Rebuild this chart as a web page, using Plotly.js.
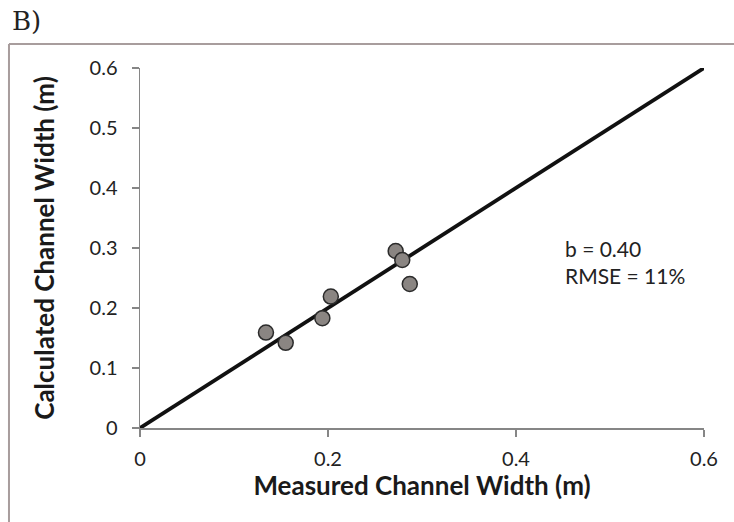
<!DOCTYPE html>
<html>
<head>
<meta charset="utf-8">
<script src="https://cdn.plot.ly/plotly-3.0.1.min.js"></script>
<style>html,body{margin:0;padding:0;background:#fff;}#chart{width:734px;height:522px;}</style>
</head>
<body>
<div id="chart"></div>
<script>
// Data
const measuredWidth = [0.134, 0.155, 0.194, 0.203, 0.272, 0.279, 0.287];
const calculatedWidth = [0.159, 0.142, 0.183, 0.219, 0.295, 0.280, 0.240];
const lineX = [0, 0.6];
const lineY = [0, 0.6];
const tickVals = [0, 0.1, 0.2, 0.3, 0.4, 0.5, 0.6];
const tickTextY = ['0', '0.1', '0.2', '0.3', '0.4', '0.5', '0.6'];
const xTickVals = [0, 0.2, 0.4, 0.6];
const xTickText = ['0', '0.2', '0.4', '0.6'];

const font = 'Lato, "Open Sans", sans-serif';

const traces = [
  {x: lineX, y: lineY, mode: 'lines', line: {color: '#111', width: 3.8}, hoverinfo: 'skip', showlegend: false},
  {x: measuredWidth, y: calculatedWidth, mode: 'markers',
   marker: {size: 15, color: '#8a8582', line: {color: '#2b2b2b', width: 1.5}}, showlegend: false}
];

const frameColor = '#a89d9d';
const layout = {
  width: 734, height: 522,
  margin: {l: 140, r: 30, t: 68, b: 94},
  paper_bgcolor: '#fff', plot_bgcolor: '#fff',
  font: {family: font, color: '#222', size: 18},
  showlegend: false,
  xaxis: {
    range: [0, 0.6], tickvals: xTickVals, ticktext: xTickText,
    showgrid: false, zeroline: false, showline: true, linecolor: '#868686', linewidth: 1.5,
    ticks: 'outside', ticklen: 7, tickcolor: '#868686', tickwidth: 1.5,
    ticklabelstandoff: 5,
    tickfont: {family: font, size: 20, color: '#222'},
    title: {text: '<b>Measured Channel Width (m)</b>', font: {family: font, size: 26, color: '#1a1a1a'}, standoff: 6}
  },
  yaxis: {
    range: [0, 0.6], tickvals: tickVals, ticktext: tickTextY,
    showgrid: false, zeroline: false, showline: true, linecolor: '#868686', linewidth: 1.5,
    ticks: 'outside', ticklen: 7, tickcolor: '#868686', tickwidth: 1.5,
    ticklabelstandoff: 10,
    tickfont: {family: font, size: 20, color: '#222'},
    title: {text: '<b>Calculated Channel Width (m)</b>', font: {family: font, size: 26, color: '#1a1a1a'}, standoff: 27}
  },
  shapes: [
    {type: 'line', xref: 'paper', yref: 'paper', x0: -0.2323, x1: 1.06, y0: 1.0667, y1: 1.0667, line: {color: frameColor, width: 2}},
    {type: 'line', xref: 'paper', yref: 'paper', x0: -0.2323, x1: -0.2323, y0: 1.0667, y1: -0.27, line: {color: frameColor, width: 2}}
  ],
  annotations: [
    {xref: 'paper', yref: 'paper', x: -0.2305, y: 1.13, xanchor: 'left', yanchor: 'middle', showarrow: false,
     text: 'B)', font: {family: '"DejaVu Serif", "Liberation Serif", serif', size: 26, color: '#222'}},
    {xref: 'paper', yref: 'paper', x: 0.75, y: 0.4625, xanchor: 'left', yanchor: 'middle', showarrow: false, align: 'left',
     text: 'b = 0.40<br>RMSE = 11%', font: {family: font, size: 21, color: '#222'}}
  ]
};

Plotly.newPlot('chart', traces, layout, {displayModeBar: false, staticPlot: true});
</script>
</body>
</html>
